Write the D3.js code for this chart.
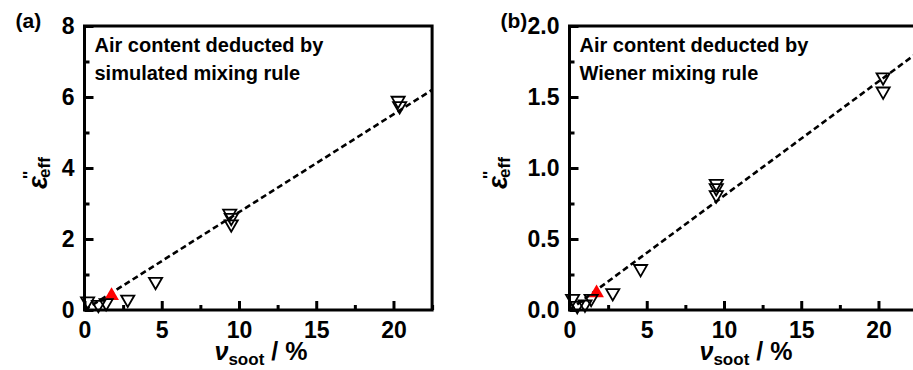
<!DOCTYPE html>
<meta charset="utf-8">
<script src="https://d3js.org/d3.v7.min.js"></script>
<style>
    body { margin: 0; background: #fff; }
    text { font-family: "Liberation Sans", Arial, sans-serif; font-weight: bold; fill: #000; }
</style>
<div id="vis"></div>
<script>
    // data
    // panel (a): air content deducted by simulated mixing rule
    var vSootA = [0.2, 0.9, 1.4, 2.8, 4.6, 9.4, 9.5, 9.5, 20.3, 20.4];
    var epsA = [0.25, 0.15, 0.2, 0.3, 0.8, 2.72, 2.6, 2.42, 5.9, 5.75];
    var redA = [1.75, 0.4];
    var fitA = [[0, 0], [22.5, 6.2]];

    // panel (b): air content deducted by Wiener mixing rule
    var vSootB = [0.2, 0.5, 1.0, 1.4, 2.8, 4.6, 9.5, 9.5, 9.5, 20.3, 20.3];
    var epsB = [0.08, 0.03, 0.04, 0.08, 0.12, 0.29, 0.89, 0.86, 0.81, 1.64, 1.54];
    var redB = [1.75, 0.12];
    var fitB = [[0, 0], [22.5, 1.81]];

    var xTicks = [0, 5, 10, 15, 20];
    var yTicksA = [0, 2, 4, 6, 8];
    var yTicksB = [0, 0.5, 1.0, 1.5, 2.0];

    var svg = d3.select("#vis")
        .append("svg")
        .attr("width", 913)
        .attr("height", 370);

    function panel(opt) {
        var x = d3.scaleLinear().domain([0, 22.5]).range([opt.left, opt.left + 347.6]);
        var y = d3.scaleLinear().domain([0, opt.ymax]).range([310, 26]);
        var g = svg.append("g");

        // fit line
        g.append("path")
            .datum(opt.fit)
            .attr("d", d3.line().x(function (d) { return x(d[0]); }).y(function (d) { return y(d[1]); }))
            .attr("fill", "none")
            .attr("stroke", "#000")
            .attr("stroke-width", 2.6)
            .attr("stroke-dasharray", "6,3.5");

        // red marker
        g.append("path")
            .attr("d", d3.symbol().type(d3.symbolTriangle).size(95)())
            .attr("transform", "translate(" + x(opt.red[0]) + "," + y(opt.red[1]) + ")")
            .attr("fill", "#ff0000");

        // open down triangles
        g.append("g")
            .selectAll("path")
            .data(opt.xs)
            .enter()
            .append("path")
            .attr("d", d3.symbol().type(d3.symbolTriangle).size(75)())
            .attr("transform", function (d, i) { return "translate(" + x(d) + "," + y(opt.ys[i]) + ") rotate(180)"; })
            .attr("fill", "none")
            .attr("stroke", "#000")
            .attr("stroke-width", 1.8);

        // axes with inward ticks
        var xAx = g.append("g")
            .attr("transform", "translate(0,310)")
            .call(d3.axisBottom(x).tickValues(xTicks).tickSize(-9).tickPadding(12).tickFormat(d3.format("d")));
        var xMin = g.append("g")
            .attr("transform", "translate(0,310)")
            .call(d3.axisBottom(x).tickValues([2.5, 7.5, 12.5, 17.5, 22.5]).tickSize(-5).tickFormat(""));
        var yAx = g.append("g")
            .attr("transform", "translate(" + opt.left + ",0)")
            .call(d3.axisLeft(y).tickValues(opt.yTicks).tickSize(-9).tickPadding(10).tickFormat(opt.fmt));
        var yMin = g.append("g")
            .attr("transform", "translate(" + opt.left + ",0)")
            .call(d3.axisLeft(y).tickValues(opt.yMinor).tickSize(-5).tickFormat(""));
        [xAx, xMin, yAx, yMin].forEach(function (a) {
            a.select(".domain").remove();
            a.selectAll("line").attr("stroke", "#000").attr("stroke-width", 3);
            a.selectAll("text")
                .style("font-size", "23px")
                .style("font-family", "Liberation Sans, Arial, sans-serif")
                .style("font-weight", "bold");
        });
        xAx.selectAll("text").attr("dy", "0.71em");

        // frame
        g.append("rect")
            .attr("x", x(0))
            .attr("y", y(opt.ymax))
            .attr("width", x(22.5) - x(0))
            .attr("height", y(0) - y(opt.ymax))
            .attr("fill", "none")
            .attr("stroke", "#000")
            .attr("stroke-width", 3);

        // annotation
        g.append("text").attr("x", x(0) + 10).attr("y", 52).style("font-size", "20px").text("Air content deducted by");
        g.append("text").attr("x", x(0) + 10).attr("y", 80).style("font-size", "20px").text(opt.rule);

        // panel label
        g.append("text").attr("x", opt.left - 69).attr("y", 28).style("font-size", "21px").text(opt.tag);

        // y axis title
        var yt = g.append("text")
            .attr("transform", "translate(" + opt.titleX + ",189) rotate(-90)")
            .style("font-size", "27px");
        yt.append("tspan").style("font-style", "italic").text("ε");
        yt.append("tspan").attr("dx", -3).attr("dy", -12).style("font-size", "17px").text("''");
        yt.append("tspan").attr("dx", -7).attr("dy", 15).style("font-size", "17px").text("eff");

        // x axis title
        var xt = g.append("text")
            .attr("x", x(0) + 130)
            .attr("y", 360)
            .style("font-size", "25px");
        xt.append("tspan").style("font-style", "italic").text("ν");
        xt.append("tspan").attr("dy", 5).style("font-size", "17px").text("soot");
        xt.append("tspan").attr("dy", -5).text(" / %");
    }

    panel({ left: 84.5, ymax: 8, xs: vSootA, ys: epsA, red: redA, fit: fitA,
        yTicks: yTicksA, yMinor: [1, 3, 5, 7], fmt: d3.format("d"),
        rule: "simulated mixing rule", tag: "(a)", titleX: 47 });
    panel({ left: 569.5, ymax: 2, xs: vSootB, ys: epsB, red: redB, fit: fitB,
        yTicks: yTicksB, yMinor: [0.25, 0.75, 1.25, 1.75], fmt: d3.format(".1f"),
        rule: "Wiener mixing rule", tag: "(b)", titleX: 507 });
</script>
